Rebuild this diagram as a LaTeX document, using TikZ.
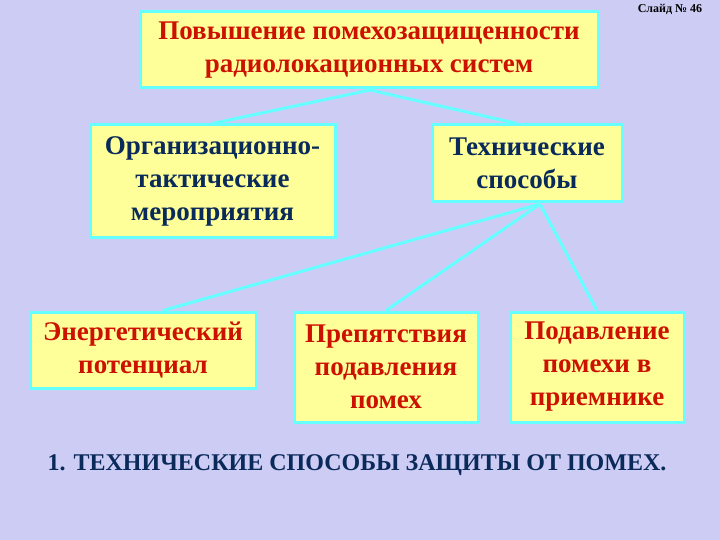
\documentclass[tikz,border=0pt]{standalone}
\usepackage{fontspec}
\setmainfont{Liberation Serif}
\definecolor{bg}{HTML}{CCCCF5}
\definecolor{bx}{HTML}{FFFF99}
\definecolor{ln}{HTML}{66FFFF}
\definecolor{rd}{HTML}{CC1100}
\definecolor{nv}{HTML}{0A2A5A}
\begin{document}
\begin{tikzpicture}[x=1pt,y=-1pt,
  box/.style={draw=ln,fill=bx,line width=3pt,inner sep=0pt,align=center,font=\bfseries\fontsize{27}{33}\selectfont},
  conn/.style={draw=ln,line width=3pt}]
\fill[bg] (0,0) rectangle (720,540);
\useasboundingbox (0,0) rectangle (720,540);
\node[box,text=rd,minimum width=458,minimum height=76] (top) at (369,50) {Повышение помехозащищенности\\радиолокационных систем};
\node[font=\bfseries\fontsize{12}{13}\selectfont] (sl) at (670,9) {Слайд № 46};
\node[box,text=nv,minimum width=245,minimum height=112] (org) at (212.5,181) {Организационно-\\тактические\\мероприятия};
\node[box,text=nv,minimum width=190,minimum height=77] (tech) at (527,163.5) {Технические\\способы};
\node[box,text=rd,minimum width=226,minimum height=76] (en) at (143,350) {Энергетический\\потенциал};
\node[box,text=rd,minimum width=184,minimum height=110] (pr) at (386,367) {Препятствия\\подавления\\помех};
\node[box,text=rd,minimum width=174,minimum height=110] (pd) at (597,367) {Подавление\\помехи в\\приемнике};
\node[text=nv,font=\bfseries\fontsize{24}{26}\selectfont] (cap) at (357,465) {1. ТЕХНИЧЕСКИЕ СПОСОБЫ ЗАЩИТЫ ОТ ПОМЕХ.};
\coordinate (t1) at (370,90);
\coordinate (t2) at (540,204);
\draw[conn] (t1) -- (org.north);
\draw[conn] (t1) -- ([xshift=-10pt]tech.north);
\draw[conn] (t2) -- ([xshift=20pt]en.north);
\draw[conn] (t2) -- (pr.north);
\draw[conn] (t2) -- (pd.north);
\end{tikzpicture}
\end{document}
